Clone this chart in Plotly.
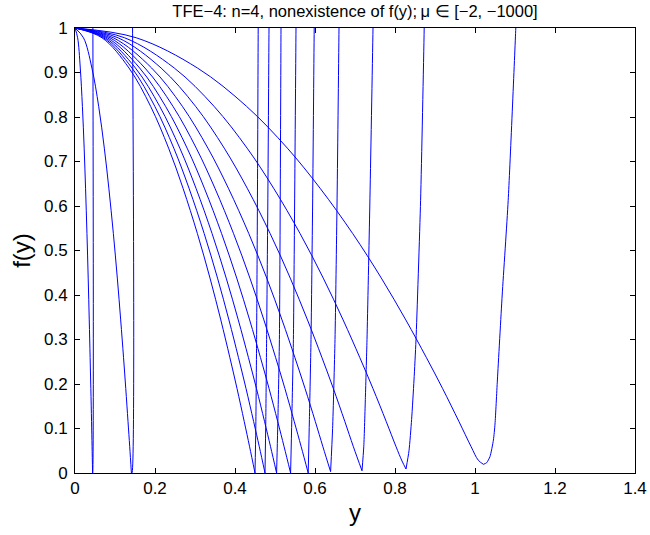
import plotly.graph_objects as go

# Curves: y positions and f(y) values
y_c1 = [0, 0.0066, 0.0132, 0.0185, 0.0229, 0.0264, 0.0299, 0.033, 0.0356, 0.0378, 0.0396, 0.0414, 0.0427, 0.044, 0.0442, 0.0442]
f_c1 = [1, 0.978, 0.91, 0.824, 0.730, 0.64, 0.538, 0.438, 0.344, 0.260, 0.19, 0.116, 0.059, 0, 0, 1.2]

y_c2 = [0, 0.0212, 0.0423, 0.0592, 0.0733, 0.0846, 0.0959, 0.1058, 0.1142, 0.1213, 0.1269, 0.1325, 0.1368, 0.141, 0.1425, 0.1425]
f_c2 = [1, 0.978, 0.91, 0.824, 0.730, 0.64, 0.538, 0.438, 0.344, 0.260, 0.19, 0.116, 0.059, 0, 0, 1.2]

y_c3 = [0, 0.0675, 0.135, 0.189, 0.234, 0.27, 0.306, 0.3375, 0.3645, 0.387, 0.405, 0.423, 0.4365, 0.450, 0.452, 0.454, 0.456, 0.458, 0.459]
f_c3 = [1, 0.978, 0.91, 0.824, 0.730, 0.64, 0.538, 0.438, 0.344, 0.260, 0.19, 0.116, 0.059, 0, 0.1, 0.3, 0.6, 1.0, 1.2]

y_c4 = [0, 0.0713, 0.1425, 0.1995, 0.247, 0.285, 0.323, 0.3563, 0.3848, 0.4085, 0.4275, 0.4465, 0.4608, 0.475, 0.477, 0.479, 0.482, 0.485, 0.4865]
f_c4 = [1, 0.978, 0.91, 0.824, 0.730, 0.64, 0.538, 0.438, 0.344, 0.260, 0.19, 0.116, 0.059, 0, 0.12, 0.3, 0.6, 1.0, 1.2]

y_c5 = [0, 0.0756, 0.1512, 0.2117, 0.2621, 0.3024, 0.3427, 0.378, 0.4082, 0.4334, 0.4536, 0.4738, 0.4889, 0.504, 0.5075, 0.511, 0.513, 0.515, 0.516]
f_c5 = [1, 0.978, 0.91, 0.824, 0.730, 0.64, 0.538, 0.438, 0.344, 0.260, 0.19, 0.116, 0.059, 0, 0.13, 0.3, 0.6, 1.0, 1.2]

y_c6 = [0, 0.0809, 0.1617, 0.2264, 0.2803, 0.3234, 0.3665, 0.4043, 0.4366, 0.4635, 0.4851, 0.5067, 0.5228, 0.539, 0.542, 0.546, 0.549, 0.5525, 0.554]
f_c6 = [1, 0.978, 0.91, 0.824, 0.730, 0.64, 0.538, 0.438, 0.344, 0.260, 0.19, 0.116, 0.059, 0, 0.12, 0.3, 0.6, 1.0, 1.2]

y_c7 = [0, 0.0875, 0.1749, 0.2449, 0.3032, 0.3498, 0.3964, 0.4373, 0.4722, 0.5014, 0.5247, 0.548, 0.5655, 0.583, 0.586, 0.590, 0.594, 0.598, 0.600]
f_c7 = [1, 0.978, 0.91, 0.824, 0.730, 0.64, 0.538, 0.438, 0.344, 0.260, 0.19, 0.116, 0.059, 0, 0.12, 0.3, 0.6, 1.0, 1.2]

y_c8 = [0, 0.0959, 0.1917, 0.2684, 0.3323, 0.3834, 0.4345, 0.4793, 0.5176, 0.5495, 0.5751, 0.6007, 0.6198, 0.639, 0.644, 0.650, 0.655, 0.660, 0.662]
f_c8 = [1, 0.978, 0.91, 0.824, 0.730, 0.64, 0.538, 0.438, 0.344, 0.260, 0.19, 0.116, 0.059, 0.003, 0.1, 0.3, 0.6, 1.0, 1.2]

y_c9 = [0, 0.1076, 0.2153, 0.3014, 0.3731, 0.4305, 0.4879, 0.5381, 0.5812, 0.6171, 0.6458, 0.6745, 0.696, 0.7175, 0.722, 0.726, 0.730, 0.737, 0.745, 0.748]
f_c9 = [1, 0.978, 0.91, 0.824, 0.730, 0.64, 0.538, 0.438, 0.344, 0.260, 0.19, 0.116, 0.059, 0.005, 0.06, 0.17, 0.3, 0.6, 1.0, 1.2]

y_c10 = [0, 0.1241, 0.2483, 0.3476, 0.4303, 0.4965, 0.5627, 0.6206, 0.6703, 0.7117, 0.7448, 0.7779, 0.8027, 0.8175, 0.8275, 0.835, 0.8415, 0.8475, 0.8525, 0.864, 0.873, 0.876]
f_c10 = [1, 0.978, 0.91, 0.824, 0.730, 0.64, 0.538, 0.438, 0.344, 0.260, 0.19, 0.116, 0.059, 0.027, 0.009, 0.05, 0.12, 0.209, 0.299, 0.613, 1.0, 1.2]

y_c11 = [0, 0.1532, 0.3063, 0.4288, 0.5309, 0.6126, 0.6943, 0.7658, 0.827, 0.8781, 0.9189, 0.9597, 0.9904, 1.008, 1.021, 1.029, 1.0375, 1.046, 1.05, 1.056, 1.068, 1.083, 1.102, 1.106]
f_c11 = [1, 0.978, 0.91, 0.824, 0.730, 0.64, 0.538, 0.438, 0.344, 0.260, 0.19, 0.116, 0.059, 0.029, 0.0195, 0.023, 0.037, 0.074, 0.11, 0.209, 0.40, 0.613, 1.0, 1.1]

curves = [(y_c1, f_c1), (y_c2, f_c2), (y_c3, f_c3), (y_c4, f_c4), (y_c5, f_c5), (y_c6, f_c6),
          (y_c7, f_c7), (y_c8, f_c8), (y_c9, f_c9), (y_c10, f_c10), (y_c11, f_c11)]

x_ticks = [0, 0.2, 0.4, 0.6, 0.8, 1, 1.2, 1.4]
x_tick_labels = ["0", "0.2", "0.4", "0.6", "0.8", "1", "1.2", "1.4"]
y_ticks = [0, 0.1, 0.2, 0.3, 0.4, 0.5, 0.6, 0.7, 0.8, 0.9, 1]
y_tick_labels = ["0", "0.1", "0.2", "0.3", "0.4", "0.5", "0.6", "0.7", "0.8", "0.9", "1"]

FONT = "Liberation Sans, Arial, Helvetica, sans-serif"
BLUE = "#0000ff"

fig = go.Figure()
for ys, fs in curves:
    k = fs.index(min(fs))  # split at the minimum: smooth descent, then the steep rise
    fig.add_trace(go.Scatter(x=ys[:k + 1], y=fs[:k + 1], mode="lines",
                             line=dict(color=BLUE, width=1, shape="spline", smoothing=1),
                             showlegend=False, hoverinfo="skip"))
    fig.add_trace(go.Scatter(x=ys[k:], y=fs[k:], mode="lines",
                             line=dict(color=BLUE, width=1, shape="spline", smoothing=0.6),
                             showlegend=False, hoverinfo="skip"))

axis_common = dict(showgrid=False, zeroline=False, showline=True, linecolor="black",
                   linewidth=1, mirror="ticks", ticks="inside", ticklen=5,
                   tickcolor="black", automargin=False,
                   tickfont=dict(family=FONT, size=17, color="black"))

fig.update_layout(
    width=650, height=535,
    margin=dict(l=75, r=15, t=28, b=62),
    paper_bgcolor="white", plot_bgcolor="white",
    title=dict(text="TFE\u22124: n=4, nonexistence of f(y);\u2009\u03bc \u2208 [\u22122, \u22121000]",
               x=355 / 650, xanchor="center",
               y=1 - 11 / 535, yanchor="middle", yref="container",
               font=dict(family=FONT, size=16.5, color="black")),
    xaxis=dict(range=[0, 1.4], tickvals=x_ticks, ticktext=x_tick_labels,
               title=dict(text="y", font=dict(family=FONT, size=24, color="black"), standoff=6),
               **axis_common),
    yaxis=dict(range=[0, 1], tickvals=y_ticks, ticktext=y_tick_labels, ticklabelstandoff=3,
               title=dict(text="f(y)", font=dict(family=FONT, size=24, color="black"), standoff=6),
               **axis_common),
)

fig.write_html("out.html", config={"displayModeBar": False},
               post_script="document.body.style.margin='0';document.body.style.overflow='hidden';")
